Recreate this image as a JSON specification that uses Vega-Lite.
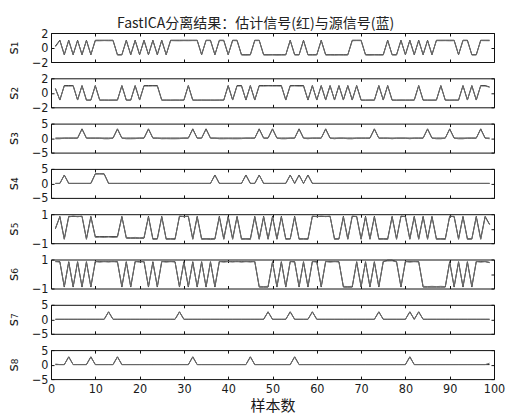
{
"$schema":"https://vega.github.io/schema/vega-lite/v6.json",
"background":"white",
"padding":{"left":5,"top":16,"right":5,"bottom":0},
"title":{"text":"FastICA分离结果：估计信号(红)与源信号(蓝)","font":"Noto Sans CJK SC","fontSize":14,"fontWeight":"normal","color":"#222","offset":-4,"anchor":"middle"},
"datasets":{
"s1":[{"n":1,"a":0.2,"b":0.1},{"n":2,"a":1,"b":0.95},{"n":3,"a":-1,"b":-0.97},{"n":4,"a":1,"b":0.96},{"n":5,"a":-1,"b":-0.98},{"n":6,"a":1,"b":0.95},{"n":7,"a":-1,"b":-0.97},{"n":8,"a":1,"b":0.96},{"n":9,"a":-1,"b":-0.98},{"n":10,"a":1,"b":0.93},{"n":11,"a":1,"b":0.92},{"n":12,"a":1,"b":0.95},{"n":13,"a":1,"b":0.93},{"n":14,"a":1,"b":0.94},{"n":15,"a":-1,"b":-1.04},{"n":16,"a":-1,"b":-1.02},{"n":17,"a":1,"b":0.96},{"n":18,"a":-1,"b":-0.98},{"n":19,"a":1,"b":0.95},{"n":20,"a":-1,"b":-0.97},{"n":21,"a":1,"b":0.96},{"n":22,"a":-1,"b":-0.98},{"n":23,"a":1,"b":0.95},{"n":24,"a":-1,"b":-0.97},{"n":25,"a":1,"b":0.96},{"n":26,"a":-1,"b":-0.98},{"n":27,"a":1,"b":0.95},{"n":28,"a":1,"b":0.93},{"n":29,"a":1,"b":0.92},{"n":30,"a":1,"b":0.94},{"n":31,"a":1,"b":0.93},{"n":32,"a":1,"b":0.95},{"n":33,"a":1,"b":0.94},{"n":34,"a":-1,"b":-0.98},{"n":35,"a":1,"b":0.96},{"n":36,"a":1,"b":0.94},{"n":37,"a":-1,"b":-0.97},{"n":38,"a":1,"b":0.95},{"n":39,"a":1,"b":0.94},{"n":40,"a":-1,"b":-0.98},{"n":41,"a":1,"b":0.95},{"n":42,"a":1,"b":0.93},{"n":43,"a":-1,"b":-1.03},{"n":44,"a":-1,"b":-1.05},{"n":45,"a":-1,"b":-1.02},{"n":46,"a":1,"b":0.94},{"n":47,"a":1,"b":0.95},{"n":48,"a":-1,"b":-1.03},{"n":49,"a":-1,"b":-1.04},{"n":50,"a":-1,"b":-1.02},{"n":51,"a":-1,"b":-1.05},{"n":52,"a":-1,"b":-1.03},{"n":53,"a":-1,"b":-1.02},{"n":54,"a":1,"b":0.96},{"n":55,"a":-1,"b":-1.03},{"n":56,"a":-1,"b":-1.02},{"n":57,"a":1,"b":0.95},{"n":58,"a":-1,"b":-1.03},{"n":59,"a":-1,"b":-1.04},{"n":60,"a":-1,"b":-1.02},{"n":61,"a":1,"b":0.96},{"n":62,"a":-1,"b":-1.04},{"n":63,"a":-1,"b":-1.03},{"n":64,"a":-1,"b":-1.05},{"n":65,"a":-1,"b":-1.02},{"n":66,"a":-1,"b":-1.04},{"n":67,"a":-1,"b":-1.03},{"n":68,"a":1,"b":0.93},{"n":69,"a":1,"b":0.95},{"n":70,"a":1,"b":0.94},{"n":71,"a":-1,"b":-1.03},{"n":72,"a":-1,"b":-1.05},{"n":73,"a":-1,"b":-1.02},{"n":74,"a":-1,"b":-1.04},{"n":75,"a":-1,"b":-1.03},{"n":76,"a":1,"b":0.96},{"n":77,"a":-1,"b":-1.02},{"n":78,"a":-1,"b":-1.04},{"n":79,"a":1,"b":0.95},{"n":80,"a":-1,"b":-0.98},{"n":81,"a":1,"b":0.96},{"n":82,"a":-1,"b":-0.97},{"n":83,"a":1,"b":0.95},{"n":84,"a":-1,"b":-0.98},{"n":85,"a":1,"b":0.96},{"n":86,"a":-1,"b":-0.97},{"n":87,"a":1,"b":0.95},{"n":88,"a":1,"b":0.93},{"n":89,"a":1,"b":0.94},{"n":90,"a":1,"b":0.92},{"n":91,"a":1,"b":0.94},{"n":92,"a":-1,"b":-0.98},{"n":93,"a":1,"b":0.95},{"n":94,"a":1,"b":0.94},{"n":95,"a":-1,"b":-1.03},{"n":96,"a":-1,"b":-1.02},{"n":97,"a":1,"b":0.95},{"n":98,"a":1,"b":0.94},{"n":99,"a":1,"b":0.93}],
"s2":[{"n":1,"a":0.6,"b":0.55},{"n":2,"a":-1,"b":-0.97},{"n":3,"a":1,"b":0.94},{"n":4,"a":1,"b":0.92},{"n":5,"a":1,"b":0.95},{"n":6,"a":-1,"b":-0.98},{"n":7,"a":1,"b":0.96},{"n":8,"a":-1,"b":-1.03},{"n":9,"a":-1,"b":-1.02},{"n":10,"a":1,"b":0.95},{"n":11,"a":-1,"b":-1.04},{"n":12,"a":-1,"b":-1.02},{"n":13,"a":-1,"b":-1.05},{"n":14,"a":-1,"b":-1.03},{"n":15,"a":-1,"b":-1.02},{"n":16,"a":1,"b":0.96},{"n":17,"a":-1,"b":-1.03},{"n":18,"a":-1,"b":-1.02},{"n":19,"a":1,"b":0.95},{"n":20,"a":-1,"b":-0.98},{"n":21,"a":1,"b":0.94},{"n":22,"a":1,"b":0.92},{"n":23,"a":1,"b":0.95},{"n":24,"a":1,"b":0.93},{"n":25,"a":-1,"b":-1.04},{"n":26,"a":-1,"b":-1.03},{"n":27,"a":-1,"b":-1.05},{"n":28,"a":-1,"b":-1.02},{"n":29,"a":-1,"b":-1.04},{"n":30,"a":-1,"b":-1.03},{"n":31,"a":1,"b":0.96},{"n":32,"a":-1,"b":-1.03},{"n":33,"a":-1,"b":-1.05},{"n":34,"a":-1,"b":-1.02},{"n":35,"a":-1,"b":-1.04},{"n":36,"a":-1,"b":-1.03},{"n":37,"a":-1,"b":-1.05},{"n":38,"a":-1,"b":-1.02},{"n":39,"a":-1,"b":-1.03},{"n":40,"a":1,"b":0.96},{"n":41,"a":-1,"b":-0.98},{"n":42,"a":1,"b":0.94},{"n":43,"a":1,"b":0.93},{"n":44,"a":-1,"b":-0.97},{"n":45,"a":1,"b":0.95},{"n":46,"a":-1,"b":-0.98},{"n":47,"a":1,"b":0.94},{"n":48,"a":1,"b":0.92},{"n":49,"a":1,"b":0.95},{"n":50,"a":1,"b":0.93},{"n":51,"a":1,"b":0.94},{"n":52,"a":1,"b":0.92},{"n":53,"a":-1,"b":-0.98},{"n":54,"a":1,"b":0.93},{"n":55,"a":1,"b":0.95},{"n":56,"a":1,"b":0.92},{"n":57,"a":1,"b":0.94},{"n":58,"a":-1,"b":-0.97},{"n":59,"a":1,"b":0.96},{"n":60,"a":-1,"b":-0.98},{"n":61,"a":1,"b":0.95},{"n":62,"a":-1,"b":-0.97},{"n":63,"a":1,"b":0.96},{"n":64,"a":-1,"b":-0.98},{"n":65,"a":1,"b":0.95},{"n":66,"a":-1,"b":-0.97},{"n":67,"a":1,"b":0.96},{"n":68,"a":-1,"b":-0.98},{"n":69,"a":1,"b":0.95},{"n":70,"a":-1,"b":-1.03},{"n":71,"a":-1,"b":-1.05},{"n":72,"a":-1,"b":-1.02},{"n":73,"a":-1,"b":-1.04},{"n":74,"a":1,"b":0.96},{"n":75,"a":-1,"b":-0.98},{"n":76,"a":1,"b":0.95},{"n":77,"a":-1,"b":-1.03},{"n":78,"a":-1,"b":-1.05},{"n":79,"a":-1,"b":-1.02},{"n":80,"a":-1,"b":-1.04},{"n":81,"a":-1,"b":-1.03},{"n":82,"a":-1,"b":-1.02},{"n":83,"a":1,"b":0.96},{"n":84,"a":-1,"b":-1.04},{"n":85,"a":-1,"b":-1.03},{"n":86,"a":-1,"b":-1.05},{"n":87,"a":-1,"b":-1.02},{"n":88,"a":1,"b":0.95},{"n":89,"a":-1,"b":-1.03},{"n":90,"a":-1,"b":-1.05},{"n":91,"a":-1,"b":-1.02},{"n":92,"a":-1,"b":-1.04},{"n":93,"a":1,"b":0.96},{"n":94,"a":-1,"b":-0.98},{"n":95,"a":1,"b":0.95},{"n":96,"a":-1,"b":-0.97},{"n":97,"a":1,"b":0.94},{"n":98,"a":1,"b":0.93},{"n":99,"a":0.8,"b":0.78}],
"s3":[{"n":1,"a":0,"b":-0.25},{"n":2,"a":0,"b":-0.25},{"n":3,"a":0,"b":0},{"n":4,"a":0,"b":0},{"n":5,"a":0,"b":0},{"n":6,"a":0,"b":0},{"n":7,"a":3.2,"b":3.0},{"n":8,"a":0,"b":0},{"n":9,"a":0,"b":0},{"n":10,"a":0,"b":0},{"n":11,"a":0,"b":0},{"n":12,"a":0,"b":-0.25},{"n":13,"a":0,"b":-0.25},{"n":14,"a":0,"b":0},{"n":15,"a":3.2,"b":3.0},{"n":16,"a":0,"b":0},{"n":17,"a":0,"b":-0.25},{"n":18,"a":0,"b":-0.25},{"n":19,"a":0,"b":-0.2},{"n":20,"a":0,"b":0},{"n":21,"a":0,"b":0},{"n":22,"a":3.2,"b":3.0},{"n":23,"a":0,"b":0},{"n":24,"a":0,"b":0},{"n":25,"a":0,"b":-0.25},{"n":26,"a":0,"b":-0.2},{"n":27,"a":0,"b":-0.25},{"n":28,"a":0,"b":-0.25},{"n":29,"a":0,"b":-0.2},{"n":30,"a":0,"b":0},{"n":31,"a":0,"b":0},{"n":32,"a":3.2,"b":3.0},{"n":33,"a":0,"b":0},{"n":34,"a":0,"b":0},{"n":35,"a":3.2,"b":3.0},{"n":36,"a":0,"b":0},{"n":37,"a":0,"b":0},{"n":38,"a":0,"b":-0.25},{"n":39,"a":0,"b":-0.25},{"n":40,"a":0,"b":-0.2},{"n":41,"a":0,"b":-0.25},{"n":42,"a":0,"b":-0.25},{"n":43,"a":0,"b":-0.2},{"n":44,"a":0,"b":0},{"n":45,"a":0,"b":0},{"n":46,"a":0,"b":0},{"n":47,"a":3.2,"b":3.0},{"n":48,"a":0,"b":0},{"n":49,"a":0,"b":0},{"n":50,"a":3.2,"b":3.1},{"n":51,"a":0,"b":0},{"n":52,"a":0,"b":-0.25},{"n":53,"a":0,"b":-0.25},{"n":54,"a":0,"b":0},{"n":55,"a":0,"b":0},{"n":56,"a":3.2,"b":3.0},{"n":57,"a":0,"b":0},{"n":58,"a":0,"b":-0.25},{"n":59,"a":0,"b":0},{"n":60,"a":0,"b":0},{"n":61,"a":0,"b":0},{"n":62,"a":3.2,"b":3.0},{"n":63,"a":0,"b":0},{"n":64,"a":0,"b":-0.25},{"n":65,"a":0,"b":0},{"n":66,"a":0,"b":0},{"n":67,"a":0,"b":-0.25},{"n":68,"a":0,"b":-0.25},{"n":69,"a":0,"b":0},{"n":70,"a":0,"b":0},{"n":71,"a":0,"b":0},{"n":72,"a":0,"b":0},{"n":73,"a":3.2,"b":3.0},{"n":74,"a":0,"b":0},{"n":75,"a":0,"b":0},{"n":76,"a":0,"b":0},{"n":77,"a":0,"b":-0.25},{"n":78,"a":0,"b":0},{"n":79,"a":0,"b":0},{"n":80,"a":0,"b":0},{"n":81,"a":0,"b":-0.25},{"n":82,"a":0,"b":0},{"n":83,"a":0,"b":0},{"n":84,"a":0,"b":0},{"n":85,"a":3.2,"b":3.0},{"n":86,"a":0,"b":0},{"n":87,"a":0,"b":-0.25},{"n":88,"a":0,"b":-0.25},{"n":89,"a":0,"b":0},{"n":90,"a":3.2,"b":3.0},{"n":91,"a":0,"b":0},{"n":92,"a":0,"b":-0.25},{"n":93,"a":0,"b":-0.25},{"n":94,"a":0,"b":0},{"n":95,"a":0,"b":0},{"n":96,"a":0,"b":0},{"n":97,"a":3.2,"b":3.0},{"n":98,"a":0,"b":0},{"n":99,"a":0,"b":-0.25}],
"s4":[{"n":1,"a":0,"b":0},{"n":2,"a":0,"b":0},{"n":3,"a":2.9,"b":2.8},{"n":4,"a":0,"b":0},{"n":5,"a":0,"b":0},{"n":6,"a":0,"b":0},{"n":7,"a":0,"b":0},{"n":8,"a":0,"b":0},{"n":9,"a":0,"b":0},{"n":10,"a":3.3,"b":3.2},{"n":11,"a":3.3,"b":3.3},{"n":12,"a":3.3,"b":3.2},{"n":13,"a":0,"b":0},{"n":14,"a":0,"b":0},{"n":15,"a":0,"b":0},{"n":16,"a":0,"b":0},{"n":17,"a":0,"b":0},{"n":18,"a":0,"b":0},{"n":19,"a":0,"b":0},{"n":20,"a":0,"b":0},{"n":21,"a":0,"b":0},{"n":22,"a":0,"b":0},{"n":23,"a":0,"b":0},{"n":24,"a":0,"b":0},{"n":25,"a":0,"b":0},{"n":26,"a":0,"b":0},{"n":27,"a":0,"b":0},{"n":28,"a":0,"b":0},{"n":29,"a":0,"b":0},{"n":30,"a":0,"b":0},{"n":31,"a":0,"b":0},{"n":32,"a":0,"b":0},{"n":33,"a":0,"b":0},{"n":34,"a":0,"b":0},{"n":35,"a":0,"b":0},{"n":36,"a":0,"b":0},{"n":37,"a":2.9,"b":2.8},{"n":38,"a":0,"b":0},{"n":39,"a":0,"b":0},{"n":40,"a":0,"b":0},{"n":41,"a":0,"b":0},{"n":42,"a":0,"b":0},{"n":43,"a":0,"b":0},{"n":44,"a":2.9,"b":2.8},{"n":45,"a":0,"b":0},{"n":46,"a":0,"b":0},{"n":47,"a":2.9,"b":2.8},{"n":48,"a":0,"b":0},{"n":49,"a":0,"b":0},{"n":50,"a":0,"b":0},{"n":51,"a":0,"b":0},{"n":52,"a":0,"b":0},{"n":53,"a":0,"b":0},{"n":54,"a":2.9,"b":2.8},{"n":55,"a":0,"b":0},{"n":56,"a":2.9,"b":2.8},{"n":57,"a":0,"b":0},{"n":58,"a":2.9,"b":2.8},{"n":59,"a":0,"b":0},{"n":60,"a":0,"b":0},{"n":61,"a":0,"b":0},{"n":62,"a":0,"b":0},{"n":63,"a":0,"b":0},{"n":64,"a":0,"b":0},{"n":65,"a":0,"b":0},{"n":66,"a":0,"b":0},{"n":67,"a":0,"b":0},{"n":68,"a":0,"b":0},{"n":69,"a":0,"b":0},{"n":70,"a":0,"b":0},{"n":71,"a":0,"b":0},{"n":72,"a":0,"b":0},{"n":73,"a":0,"b":0},{"n":74,"a":0,"b":0},{"n":75,"a":0,"b":0},{"n":76,"a":0,"b":0},{"n":77,"a":0,"b":0},{"n":78,"a":0,"b":0},{"n":79,"a":0,"b":0},{"n":80,"a":0,"b":0},{"n":81,"a":0,"b":0},{"n":82,"a":0,"b":0},{"n":83,"a":0,"b":0},{"n":84,"a":0,"b":0},{"n":85,"a":0,"b":0},{"n":86,"a":0,"b":0},{"n":87,"a":0,"b":0},{"n":88,"a":0,"b":0},{"n":89,"a":0,"b":0},{"n":90,"a":0,"b":0},{"n":91,"a":0,"b":0},{"n":92,"a":0,"b":0},{"n":93,"a":0,"b":0},{"n":94,"a":0,"b":0},{"n":95,"a":0,"b":0},{"n":96,"a":0,"b":0},{"n":97,"a":0,"b":0},{"n":98,"a":0,"b":0},{"n":99,"a":0,"b":0}],
"s5":[{"n":1,"a":0,"b":0.05},{"n":2,"a":0.85,"b":0.8},{"n":3,"a":-0.7,"b":-0.74},{"n":4,"a":0.85,"b":0.8},{"n":5,"a":0.85,"b":0.88},{"n":6,"a":0.85,"b":0.82},{"n":7,"a":0.85,"b":0.87},{"n":8,"a":-0.7,"b":-0.74},{"n":9,"a":0.85,"b":0.8},{"n":10,"a":-0.55,"b":-0.6},{"n":11,"a":-0.55,"b":-0.58},{"n":12,"a":-0.55,"b":-0.6},{"n":13,"a":-0.55,"b":-0.57},{"n":14,"a":-0.55,"b":-0.6},{"n":15,"a":-0.55,"b":-0.58},{"n":16,"a":0.85,"b":0.8},{"n":17,"a":-0.65,"b":-0.6},{"n":18,"a":-0.65,"b":-0.62},{"n":19,"a":-0.65,"b":-0.6},{"n":20,"a":-0.65,"b":-0.63},{"n":21,"a":-0.65,"b":-0.6},{"n":22,"a":0.85,"b":0.8},{"n":23,"a":-0.7,"b":-0.74},{"n":24,"a":-0.7,"b":-0.72},{"n":25,"a":0.85,"b":0.8},{"n":26,"a":-0.7,"b":-0.74},{"n":27,"a":-0.7,"b":-0.72},{"n":28,"a":-0.7,"b":-0.75},{"n":29,"a":0.85,"b":0.88},{"n":30,"a":0.85,"b":0.82},{"n":31,"a":0.85,"b":0.87},{"n":32,"a":-0.7,"b":-0.74},{"n":33,"a":0.85,"b":0.8},{"n":34,"a":-0.7,"b":-0.74},{"n":35,"a":-0.7,"b":-0.72},{"n":36,"a":-0.7,"b":-0.75},{"n":37,"a":-0.7,"b":-0.72},{"n":38,"a":0.85,"b":0.8},{"n":39,"a":-0.7,"b":-0.74},{"n":40,"a":0.85,"b":0.8},{"n":41,"a":-0.7,"b":-0.74},{"n":42,"a":0.85,"b":0.8},{"n":43,"a":-0.7,"b":-0.74},{"n":44,"a":-0.7,"b":-0.72},{"n":45,"a":-0.7,"b":-0.75},{"n":46,"a":0.85,"b":0.8},{"n":47,"a":-0.7,"b":-0.74},{"n":48,"a":0.85,"b":0.8},{"n":49,"a":-0.7,"b":-0.74},{"n":50,"a":0.85,"b":0.8},{"n":51,"a":-0.7,"b":-0.74},{"n":52,"a":0.85,"b":0.8},{"n":53,"a":-0.7,"b":-0.74},{"n":54,"a":-0.7,"b":-0.72},{"n":55,"a":0.85,"b":0.8},{"n":56,"a":-0.7,"b":-0.74},{"n":57,"a":-0.7,"b":-0.72},{"n":58,"a":-0.7,"b":-0.75},{"n":59,"a":0.85,"b":0.88},{"n":60,"a":0.85,"b":0.82},{"n":61,"a":0.85,"b":0.87},{"n":62,"a":0.85,"b":0.83},{"n":63,"a":0.85,"b":0.87},{"n":64,"a":-0.7,"b":-0.74},{"n":65,"a":-0.7,"b":-0.72},{"n":66,"a":0.85,"b":0.8},{"n":67,"a":-0.7,"b":-0.74},{"n":68,"a":0.85,"b":0.88},{"n":69,"a":0.85,"b":0.82},{"n":70,"a":-0.7,"b":-0.74},{"n":71,"a":0.85,"b":0.8},{"n":72,"a":-0.7,"b":-0.74},{"n":73,"a":0.85,"b":0.8},{"n":74,"a":-0.7,"b":-0.74},{"n":75,"a":-0.7,"b":-0.72},{"n":76,"a":-0.7,"b":-0.75},{"n":77,"a":0.85,"b":0.8},{"n":78,"a":-0.7,"b":-0.74},{"n":79,"a":0.85,"b":0.88},{"n":80,"a":0.85,"b":0.82},{"n":81,"a":-0.7,"b":-0.74},{"n":82,"a":0.85,"b":0.8},{"n":83,"a":-0.7,"b":-0.74},{"n":84,"a":0.85,"b":0.8},{"n":85,"a":-0.7,"b":-0.74},{"n":86,"a":0.85,"b":0.8},{"n":87,"a":-0.7,"b":-0.74},{"n":88,"a":-0.7,"b":-0.72},{"n":89,"a":-0.7,"b":-0.75},{"n":90,"a":0.85,"b":0.88},{"n":91,"a":0.85,"b":0.82},{"n":92,"a":-0.7,"b":-0.74},{"n":93,"a":0.85,"b":0.8},{"n":94,"a":-0.7,"b":-0.74},{"n":95,"a":-0.7,"b":-0.72},{"n":96,"a":0.85,"b":0.8},{"n":97,"a":-0.7,"b":-0.74},{"n":98,"a":0.85,"b":0.8},{"n":99,"a":0.3,"b":0.28}],
"s6":[{"n":1,"a":0.85,"b":0.88},{"n":2,"a":0.85,"b":0.82},{"n":3,"a":-0.9,"b":-0.86},{"n":4,"a":0.85,"b":0.8},{"n":5,"a":-0.9,"b":-0.86},{"n":6,"a":0.85,"b":0.8},{"n":7,"a":-0.9,"b":-0.86},{"n":8,"a":0.85,"b":0.8},{"n":9,"a":-0.9,"b":-0.86},{"n":10,"a":0.85,"b":0.88},{"n":11,"a":0.85,"b":0.82},{"n":12,"a":0.85,"b":0.87},{"n":13,"a":0.85,"b":0.83},{"n":14,"a":0.85,"b":0.88},{"n":15,"a":0.85,"b":0.82},{"n":16,"a":-0.9,"b":-0.86},{"n":17,"a":0.85,"b":0.8},{"n":18,"a":-0.9,"b":-0.86},{"n":19,"a":0.85,"b":0.88},{"n":20,"a":0.85,"b":0.82},{"n":21,"a":0.85,"b":0.87},{"n":22,"a":-0.9,"b":-0.86},{"n":23,"a":0.85,"b":0.8},{"n":24,"a":-0.9,"b":-0.86},{"n":25,"a":0.85,"b":0.88},{"n":26,"a":0.85,"b":0.82},{"n":27,"a":0.85,"b":0.87},{"n":28,"a":0.85,"b":0.83},{"n":29,"a":-0.9,"b":-0.86},{"n":30,"a":0.85,"b":0.8},{"n":31,"a":-0.9,"b":-0.86},{"n":32,"a":0.85,"b":0.8},{"n":33,"a":-0.9,"b":-0.86},{"n":34,"a":0.85,"b":0.8},{"n":35,"a":-0.9,"b":-0.86},{"n":36,"a":0.85,"b":0.8},{"n":37,"a":-0.9,"b":-0.86},{"n":38,"a":0.85,"b":0.88},{"n":39,"a":0.85,"b":0.82},{"n":40,"a":0.85,"b":0.87},{"n":41,"a":0.85,"b":0.83},{"n":42,"a":0.85,"b":0.88},{"n":43,"a":0.85,"b":0.82},{"n":44,"a":0.85,"b":0.87},{"n":45,"a":0.85,"b":0.83},{"n":46,"a":0.85,"b":0.88},{"n":47,"a":-0.9,"b":-0.85},{"n":48,"a":-0.9,"b":-0.87},{"n":49,"a":-0.9,"b":-0.85},{"n":50,"a":0.85,"b":0.8},{"n":51,"a":-0.9,"b":-0.86},{"n":52,"a":0.85,"b":0.8},{"n":53,"a":-0.9,"b":-0.86},{"n":54,"a":0.85,"b":0.88},{"n":55,"a":0.85,"b":0.82},{"n":56,"a":-0.9,"b":-0.86},{"n":57,"a":0.85,"b":0.8},{"n":58,"a":-0.9,"b":-0.86},{"n":59,"a":0.85,"b":0.88},{"n":60,"a":0.85,"b":0.82},{"n":61,"a":-0.9,"b":-0.86},{"n":62,"a":0.85,"b":0.88},{"n":63,"a":0.85,"b":0.82},{"n":64,"a":0.85,"b":0.87},{"n":65,"a":0.85,"b":0.83},{"n":66,"a":-0.9,"b":-0.85},{"n":67,"a":-0.9,"b":-0.87},{"n":68,"a":-0.9,"b":-0.85},{"n":69,"a":0.85,"b":0.8},{"n":70,"a":-0.9,"b":-0.86},{"n":71,"a":0.85,"b":0.8},{"n":72,"a":-0.9,"b":-0.86},{"n":73,"a":0.85,"b":0.8},{"n":74,"a":-0.9,"b":-0.86},{"n":75,"a":0.85,"b":0.88},{"n":76,"a":0.95,"b":0.9},{"n":77,"a":0.95,"b":0.91},{"n":78,"a":0.85,"b":0.83},{"n":79,"a":-0.9,"b":-0.86},{"n":80,"a":0.85,"b":0.88},{"n":81,"a":0.85,"b":0.82},{"n":82,"a":0.85,"b":0.87},{"n":83,"a":0.85,"b":0.83},{"n":84,"a":-0.9,"b":-0.85},{"n":85,"a":-0.9,"b":-0.87},{"n":86,"a":-0.9,"b":-0.85},{"n":87,"a":-0.9,"b":-0.87},{"n":88,"a":-0.9,"b":-0.85},{"n":89,"a":-0.9,"b":-0.87},{"n":90,"a":0.85,"b":0.8},{"n":91,"a":-0.9,"b":-0.86},{"n":92,"a":0.85,"b":0.8},{"n":93,"a":-0.9,"b":-0.86},{"n":94,"a":0.85,"b":0.8},{"n":95,"a":-0.9,"b":-0.86},{"n":96,"a":0.85,"b":0.88},{"n":97,"a":0.85,"b":0.82},{"n":98,"a":0.85,"b":0.87},{"n":99,"a":0.8,"b":0.78}],
"s7":[{"n":1,"a":0,"b":0},{"n":2,"a":0,"b":0},{"n":3,"a":0,"b":0},{"n":4,"a":0,"b":0},{"n":5,"a":0,"b":0},{"n":6,"a":0,"b":0},{"n":7,"a":0,"b":0},{"n":8,"a":0,"b":0},{"n":9,"a":0,"b":0},{"n":10,"a":0,"b":0},{"n":11,"a":0,"b":0},{"n":12,"a":0,"b":0},{"n":13,"a":2.6,"b":2.5},{"n":14,"a":0,"b":0},{"n":15,"a":0,"b":0},{"n":16,"a":0,"b":0},{"n":17,"a":0,"b":0},{"n":18,"a":0,"b":0},{"n":19,"a":0,"b":0},{"n":20,"a":0,"b":0},{"n":21,"a":0,"b":0},{"n":22,"a":0,"b":0},{"n":23,"a":0,"b":0},{"n":24,"a":0,"b":0},{"n":25,"a":0,"b":0},{"n":26,"a":0,"b":0},{"n":27,"a":0,"b":0},{"n":28,"a":0,"b":0},{"n":29,"a":2.6,"b":2.5},{"n":30,"a":0,"b":0},{"n":31,"a":0,"b":0},{"n":32,"a":0,"b":0},{"n":33,"a":0,"b":0},{"n":34,"a":0,"b":0},{"n":35,"a":0,"b":0},{"n":36,"a":0,"b":0},{"n":37,"a":0,"b":0},{"n":38,"a":0,"b":0},{"n":39,"a":0,"b":0},{"n":40,"a":0,"b":0},{"n":41,"a":0,"b":0},{"n":42,"a":0,"b":0},{"n":43,"a":0,"b":0},{"n":44,"a":0,"b":0},{"n":45,"a":0,"b":0},{"n":46,"a":0,"b":0},{"n":47,"a":0,"b":0},{"n":48,"a":0,"b":0},{"n":49,"a":2.6,"b":2.5},{"n":50,"a":0,"b":0},{"n":51,"a":0,"b":0},{"n":52,"a":0,"b":0},{"n":53,"a":0,"b":0},{"n":54,"a":2.6,"b":2.5},{"n":55,"a":0,"b":0},{"n":56,"a":0,"b":0},{"n":57,"a":0,"b":0},{"n":58,"a":0,"b":0},{"n":59,"a":2.6,"b":2.5},{"n":60,"a":0,"b":0},{"n":61,"a":0,"b":0},{"n":62,"a":0,"b":0},{"n":63,"a":0,"b":0},{"n":64,"a":0,"b":0},{"n":65,"a":0,"b":0},{"n":66,"a":0,"b":0},{"n":67,"a":0,"b":0},{"n":68,"a":0,"b":0},{"n":69,"a":0,"b":0},{"n":70,"a":0,"b":0},{"n":71,"a":0,"b":0},{"n":72,"a":0,"b":0},{"n":73,"a":0,"b":0},{"n":74,"a":2.6,"b":2.5},{"n":75,"a":0,"b":0},{"n":76,"a":0,"b":0},{"n":77,"a":0,"b":0},{"n":78,"a":0,"b":0},{"n":79,"a":0,"b":0},{"n":80,"a":0,"b":0},{"n":81,"a":2.6,"b":2.5},{"n":82,"a":0,"b":0},{"n":83,"a":2.6,"b":2.5},{"n":84,"a":0,"b":0},{"n":85,"a":0,"b":0},{"n":86,"a":0,"b":0},{"n":87,"a":0,"b":0},{"n":88,"a":0,"b":0},{"n":89,"a":0,"b":0},{"n":90,"a":0,"b":0},{"n":91,"a":0,"b":0},{"n":92,"a":0,"b":0},{"n":93,"a":0,"b":0},{"n":94,"a":0,"b":0},{"n":95,"a":0,"b":0},{"n":96,"a":0,"b":0},{"n":97,"a":0,"b":0},{"n":98,"a":0,"b":0},{"n":99,"a":0,"b":0}],
"s8":[{"n":1,"a":0,"b":0.2},{"n":2,"a":0,"b":0},{"n":3,"a":0,"b":0},{"n":4,"a":2.7,"b":2.6},{"n":5,"a":0,"b":0},{"n":6,"a":0,"b":0},{"n":7,"a":0,"b":0},{"n":8,"a":0,"b":0},{"n":9,"a":2.7,"b":2.6},{"n":10,"a":0,"b":0},{"n":11,"a":0,"b":0},{"n":12,"a":0,"b":0},{"n":13,"a":0,"b":0},{"n":14,"a":0,"b":0},{"n":15,"a":2.7,"b":2.6},{"n":16,"a":0,"b":0},{"n":17,"a":0,"b":0},{"n":18,"a":0,"b":0},{"n":19,"a":0,"b":0},{"n":20,"a":0,"b":0},{"n":21,"a":0,"b":0},{"n":22,"a":0,"b":0},{"n":23,"a":0,"b":0},{"n":24,"a":0,"b":0},{"n":25,"a":0,"b":0},{"n":26,"a":0,"b":0},{"n":27,"a":0,"b":0},{"n":28,"a":0,"b":0},{"n":29,"a":0,"b":0},{"n":30,"a":0,"b":0},{"n":31,"a":0,"b":0},{"n":32,"a":2.7,"b":2.6},{"n":33,"a":0,"b":0},{"n":34,"a":0,"b":0},{"n":35,"a":0,"b":0},{"n":36,"a":0,"b":0},{"n":37,"a":0,"b":0},{"n":38,"a":0,"b":0},{"n":39,"a":0,"b":0},{"n":40,"a":0,"b":0},{"n":41,"a":0,"b":0},{"n":42,"a":0,"b":0},{"n":43,"a":0,"b":0},{"n":44,"a":0,"b":0},{"n":45,"a":2.7,"b":2.6},{"n":46,"a":0,"b":0},{"n":47,"a":0,"b":0},{"n":48,"a":0,"b":0},{"n":49,"a":0,"b":0},{"n":50,"a":0,"b":0},{"n":51,"a":0,"b":0},{"n":52,"a":0,"b":0},{"n":53,"a":0,"b":0},{"n":54,"a":0,"b":0},{"n":55,"a":2.7,"b":2.6},{"n":56,"a":0,"b":0},{"n":57,"a":0,"b":0},{"n":58,"a":0,"b":0},{"n":59,"a":0,"b":0},{"n":60,"a":0,"b":0},{"n":61,"a":0,"b":0},{"n":62,"a":0,"b":0},{"n":63,"a":0,"b":0},{"n":64,"a":0,"b":0},{"n":65,"a":0,"b":0},{"n":66,"a":0,"b":0},{"n":67,"a":0,"b":0},{"n":68,"a":0,"b":0},{"n":69,"a":0,"b":0},{"n":70,"a":0,"b":0},{"n":71,"a":0,"b":0},{"n":72,"a":0,"b":0},{"n":73,"a":0,"b":0},{"n":74,"a":0,"b":0},{"n":75,"a":0,"b":0},{"n":76,"a":0,"b":0},{"n":77,"a":0,"b":0},{"n":78,"a":0,"b":0},{"n":79,"a":0,"b":0},{"n":80,"a":0,"b":0},{"n":81,"a":2.7,"b":2.6},{"n":82,"a":0,"b":0},{"n":83,"a":0,"b":0},{"n":84,"a":0,"b":0},{"n":85,"a":0,"b":0},{"n":86,"a":0,"b":0},{"n":87,"a":0,"b":0},{"n":88,"a":0,"b":0},{"n":89,"a":0,"b":0},{"n":90,"a":0,"b":0},{"n":91,"a":0,"b":0},{"n":92,"a":0,"b":0},{"n":93,"a":0,"b":0},{"n":94,"a":0,"b":0},{"n":95,"a":0,"b":0},{"n":96,"a":0,"b":0},{"n":97,"a":0,"b":0},{"n":98,"a":0,"b":0},{"n":99,"a":0,"b":0.5}]
},
"bounds":"flush",
"spacing":16.3,
"vconcat":[
{"data":{"name":"s1"},"width":443,"height":29,"resolve":{"axis":{"x":"independent","y":"independent"}},"layer":[
 {"mark":{"type":"line","color":"#1e1e1e","strokeWidth":1},"encoding":{"x":{"field":"n","type":"quantitative","scale":{"domain":[0,100],"nice":false},"axis":{"orient":"bottom","values":[0,10,20,30,40,50,60,70,80,90,100],"labels":false,"title":null}},"y":{"field":"a","type":"quantitative","scale":{"domain":[-2,2],"nice":false},"axis":{"orient":"left","values":[-2,0,2],"format":"d","title":"s₁"}}}},
 {"mark":{"type":"line","color":"#6e6e6e","strokeWidth":1},"encoding":{"x":{"field":"n","type":"quantitative","axis":{"orient":"top","values":[0,10,20,30,40,50,60,70,80,90,100],"labels":false,"title":null}},"y":{"field":"b","type":"quantitative","axis":{"orient":"right","values":[-2,0,2],"labels":false,"title":null}}}}
]},
{"data":{"name":"s2"},"width":443,"height":29,"resolve":{"axis":{"x":"independent","y":"independent"}},"layer":[
 {"mark":{"type":"line","color":"#1e1e1e","strokeWidth":1},"encoding":{"x":{"field":"n","type":"quantitative","scale":{"domain":[0,100],"nice":false},"axis":{"orient":"bottom","values":[0,10,20,30,40,50,60,70,80,90,100],"labels":false,"title":null}},"y":{"field":"a","type":"quantitative","scale":{"domain":[-2,2],"nice":false},"axis":{"orient":"left","values":[-2,0,2],"format":"d","title":"s₂"}}}},
 {"mark":{"type":"line","color":"#6e6e6e","strokeWidth":1},"encoding":{"x":{"field":"n","type":"quantitative","axis":{"orient":"top","values":[0,10,20,30,40,50,60,70,80,90,100],"labels":false,"title":null}},"y":{"field":"b","type":"quantitative","axis":{"orient":"right","values":[-2,0,2],"labels":false,"title":null}}}}
]},
{"data":{"name":"s3"},"width":443,"height":29,"resolve":{"axis":{"x":"independent","y":"independent"}},"layer":[
 {"mark":{"type":"line","color":"#1e1e1e","strokeWidth":1},"encoding":{"x":{"field":"n","type":"quantitative","scale":{"domain":[0,100],"nice":false},"axis":{"orient":"bottom","values":[0,10,20,30,40,50,60,70,80,90,100],"labels":false,"title":null}},"y":{"field":"a","type":"quantitative","scale":{"domain":[-5,5],"nice":false},"axis":{"orient":"left","values":[-5,0,5],"format":"d","title":"s₃"}}}},
 {"mark":{"type":"line","color":"#6e6e6e","strokeWidth":1},"encoding":{"x":{"field":"n","type":"quantitative","axis":{"orient":"top","values":[0,10,20,30,40,50,60,70,80,90,100],"labels":false,"title":null}},"y":{"field":"b","type":"quantitative","axis":{"orient":"right","values":[-5,0,5],"labels":false,"title":null}}}}
]},
{"data":{"name":"s4"},"width":443,"height":29,"resolve":{"axis":{"x":"independent","y":"independent"}},"layer":[
 {"mark":{"type":"line","color":"#1e1e1e","strokeWidth":1},"encoding":{"x":{"field":"n","type":"quantitative","scale":{"domain":[0,100],"nice":false},"axis":{"orient":"bottom","values":[0,10,20,30,40,50,60,70,80,90,100],"labels":false,"title":null}},"y":{"field":"a","type":"quantitative","scale":{"domain":[-5,5],"nice":false},"axis":{"orient":"left","values":[-5,0,5],"format":"d","title":"s₄"}}}},
 {"mark":{"type":"line","color":"#6e6e6e","strokeWidth":1},"encoding":{"x":{"field":"n","type":"quantitative","axis":{"orient":"top","values":[0,10,20,30,40,50,60,70,80,90,100],"labels":false,"title":null}},"y":{"field":"b","type":"quantitative","axis":{"orient":"right","values":[-5,0,5],"labels":false,"title":null}}}}
]},
{"data":{"name":"s5"},"width":443,"height":29,"resolve":{"axis":{"x":"independent","y":"independent"}},"layer":[
 {"mark":{"type":"line","color":"#1e1e1e","strokeWidth":1},"encoding":{"x":{"field":"n","type":"quantitative","scale":{"domain":[0,100],"nice":false},"axis":{"orient":"bottom","values":[0,10,20,30,40,50,60,70,80,90,100],"labels":false,"title":null}},"y":{"field":"a","type":"quantitative","scale":{"domain":[-1,1],"nice":false},"axis":{"orient":"left","values":[-1,0,1],"format":"d","title":"s₅"}}}},
 {"mark":{"type":"line","color":"#6e6e6e","strokeWidth":1},"encoding":{"x":{"field":"n","type":"quantitative","axis":{"orient":"top","values":[0,10,20,30,40,50,60,70,80,90,100],"labels":false,"title":null}},"y":{"field":"b","type":"quantitative","axis":{"orient":"right","values":[-1,0,1],"labels":false,"title":null}}}}
]},
{"data":{"name":"s6"},"width":443,"height":29,"resolve":{"axis":{"x":"independent","y":"independent"}},"layer":[
 {"mark":{"type":"line","color":"#1e1e1e","strokeWidth":1},"encoding":{"x":{"field":"n","type":"quantitative","scale":{"domain":[0,100],"nice":false},"axis":{"orient":"bottom","values":[0,10,20,30,40,50,60,70,80,90,100],"labels":false,"title":null}},"y":{"field":"a","type":"quantitative","scale":{"domain":[-1,1],"nice":false},"axis":{"orient":"left","values":[-1,0,1],"format":"d","title":"s₆"}}}},
 {"mark":{"type":"line","color":"#6e6e6e","strokeWidth":1},"encoding":{"x":{"field":"n","type":"quantitative","axis":{"orient":"top","values":[0,10,20,30,40,50,60,70,80,90,100],"labels":false,"title":null}},"y":{"field":"b","type":"quantitative","axis":{"orient":"right","values":[-1,0,1],"labels":false,"title":null}}}}
]},
{"data":{"name":"s7"},"width":443,"height":29,"resolve":{"axis":{"x":"independent","y":"independent"}},"layer":[
 {"mark":{"type":"line","color":"#1e1e1e","strokeWidth":1},"encoding":{"x":{"field":"n","type":"quantitative","scale":{"domain":[0,100],"nice":false},"axis":{"orient":"bottom","values":[0,10,20,30,40,50,60,70,80,90,100],"labels":false,"title":null}},"y":{"field":"a","type":"quantitative","scale":{"domain":[-5,5],"nice":false},"axis":{"orient":"left","values":[-5,0,5],"format":"d","title":"s₇"}}}},
 {"mark":{"type":"line","color":"#6e6e6e","strokeWidth":1},"encoding":{"x":{"field":"n","type":"quantitative","axis":{"orient":"top","values":[0,10,20,30,40,50,60,70,80,90,100],"labels":false,"title":null}},"y":{"field":"b","type":"quantitative","axis":{"orient":"right","values":[-5,0,5],"labels":false,"title":null}}}}
]},
{"data":{"name":"s8"},"width":443,"height":29,"resolve":{"axis":{"x":"independent","y":"independent"}},"layer":[
 {"mark":{"type":"line","color":"#1e1e1e","strokeWidth":1},"encoding":{"x":{"field":"n","type":"quantitative","scale":{"domain":[0,100],"nice":false},"axis":{"orient":"bottom","values":[0,10,20,30,40,50,60,70,80,90,100],"labels":true,"format":"d","title":"样本数","titleFont":"Noto Sans CJK SC","titleFontSize":15,"titleFontWeight":"normal","titlePadding":4}},"y":{"field":"a","type":"quantitative","scale":{"domain":[-5,5],"nice":false},"axis":{"orient":"left","values":[-5,0,5],"format":"d","title":"s₈"}}}},
 {"mark":{"type":"line","color":"#6e6e6e","strokeWidth":1},"encoding":{"x":{"field":"n","type":"quantitative","axis":{"orient":"top","values":[0,10,20,30,40,50,60,70,80,90,100],"labels":false,"title":null}},"y":{"field":"b","type":"quantitative","axis":{"orient":"right","values":[-5,0,5],"labels":false,"title":null}}}}
]}
],
"config":{
 "view":{"stroke":"#111","strokeWidth":1},
 "axis":{"domain":false,"grid":false,"tickSize":-3,"tickColor":"#111","tickWidth":1,"labelFont":"Liberation Sans Narrow, DejaVu Sans Condensed, Liberation Sans, sans-serif","labelFontSize":12.5,"labelColor":"#1a1a1a","labelPadding":6,"labelFlush":false,"labelOverlap":false,"titleFont":"DejaVu Sans","titleFontSize":14,"titleFontWeight":"normal","titleColor":"#1a1a1a","titlePadding":11},
 "axisY":{"labelBaseline":"middle"}
}
}
